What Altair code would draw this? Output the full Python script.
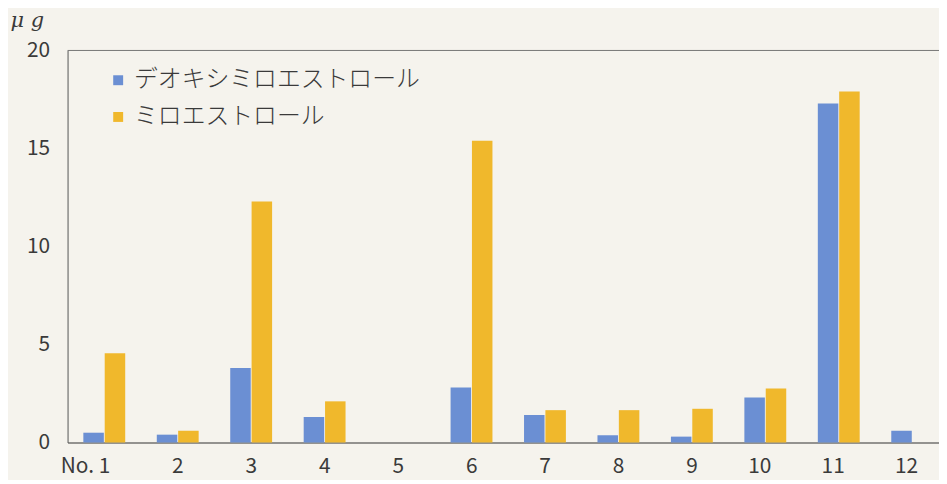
import altair as alt
import pandas as pd

categories = ["1", "2", "3", "4", "5", "6", "7", "8", "9", "10", "11", "12"]
series_names = ["デオキシミロエストロール", "ミロエストロール"]
deoxy = [0.5, 0.4, 3.8, 1.3, 0.0, 2.8, 1.4, 0.37, 0.3, 2.3, 17.3, 0.6]
miro = [4.55, 0.6, 12.3, 2.1, 0.0, 15.4, 1.65, 1.65, 1.72, 2.75, 17.9, 0.0]
colors = ["#6b8fd3", "#f0b82c"]

rows = []
for i, c in enumerate(categories):
    rows.append({"cat": c, "series": series_names[0], "value": deoxy[i]})
    rows.append({"cat": c, "series": series_names[1], "value": miro[i]})
df = pd.DataFrame(rows)

FONT = "Noto Sans CJK JP"
TXT = "#3a3a3a"

bars = alt.Chart(df).mark_bar().encode(
    x=alt.X("cat:N", sort=categories,
            scale=alt.Scale(range=[0, 888], paddingInner=0.43, paddingOuter=0.215),
            axis=alt.Axis(title=None, labelAngle=0, ticks=False,
                          labelExpr="datum.value == '1' ? 'No.  1' : datum.value",
                          labelAlign="right", labelOffset=6, labelPadding=13,
                          labelFont=FONT, labelFontSize=21, labelColor=TXT,
                          domainColor="#333", domainWidth=1.2)),
    xOffset=alt.XOffset("series:N", sort=series_names,
                        scale=alt.Scale(paddingInner=0.04)),
    y=alt.Y("value:Q", scale=alt.Scale(domain=[0, 20], nice=False),
            axis=alt.Axis(title="μ g", values=[0, 5, 10, 15, 20], grid=False, ticks=False,
                          labelFont=FONT, labelFontSize=21, labelColor=TXT, labelPadding=18,
                          domainColor="#555", domainWidth=1,
                          titleAngle=0, titleX=-58, titleY=-30, titleAlign="left",
                          titleBaseline="middle", titleFont="DejaVu Serif",
                          titleFontStyle="italic", titleFontWeight="normal",
                          titleFontSize=21, titleColor=TXT)),
    color=alt.Color("series:N", sort=series_names,
                    scale=alt.Scale(domain=series_names, range=colors),
                    legend=alt.Legend(title=None, orient="none", legendX=39, legendY=18,
                                      symbolType="square", symbolSize=100,
                                      symbolStrokeWidth=0, rowPadding=13, labelLimit=0,
                                      labelFont=FONT, labelFontSize=24,
                                      labelFontWeight=300, labelColor=TXT, labelOffset=4)),
)

top = alt.Chart(pd.DataFrame({"v": [20]})).mark_rule(color="#777", strokeWidth=1).encode(
    y=alt.Y("v:Q")
)

chart = alt.layer(bars, top).properties(
    width=878, height=395,
    background="#f5f3ed",
    padding={"left": 60, "top": 41, "right": 0, "bottom": 36},
    autosize=alt.AutoSizeParams(type="none"),
).configure_view(stroke=None)

chart.save("out.html", embed_options={"renderer": "svg", "actions": False})
